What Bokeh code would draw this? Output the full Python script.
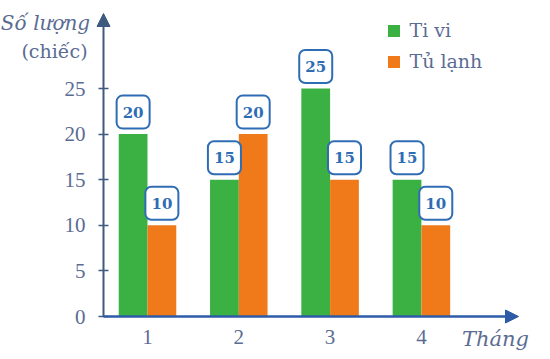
from bokeh.plotting import figure
from bokeh.models import (Range1d, FixedTicker, Label, Arrow, NormalHead, Legend,
                          LegendItem, ColumnDataSource)
from bokeh.transform import dodge
from bokeh.embed import file_html
from bokeh.resources import INLINE
from bokeh.core.properties import value

# ---- data ----
months = [1, 2, 3, 4]
tivi = [20, 15, 25, 15]
tulanh = [10, 20, 15, 10]
y_ticks = [0, 5, 10, 15, 20, 25]
series_names = ["Ti vi", "Tủ lạnh"]
y_title = ["Số lượng", "(chiếc)"]
x_title = "Tháng"

# ---- style ----
GREEN = "#3bb143"
ORANGE = "#f07a1a"
TXT = "#5b6c93"
BOX = "#2e6db4"
YAX = "#3e5a7e"
XAX = "#2d5ba8"
TICK_FONT = "Times New Roman"
SERIF = "DejaVu Serif"

W, H = 546, 355
px_x = 91.3          # pixels per month
px_y = 9.12          # pixels per unit
xs = 1 - 147 / px_x
xe = xs + W / px_x
ys = -(H - 316) / px_y
ye = ys + H / px_y
y_axis_x = xs + 103 / px_x       # where the y axis stands
y_arrow_top = ys + (H - 13) / px_y
x_arrow_end = xs + 518 / px_x
bar_w = 0.315
box_off = 22 / px_y

src = ColumnDataSource(dict(
    month=months, tivi=tivi, tulanh=tulanh,
    tivi_txt=[str(v) for v in tivi], tulanh_txt=[str(v) for v in tulanh]))

p = figure(width=W, height=H, x_range=Range1d(xs, xe), y_range=Range1d(ys, ye),
           output_backend="svg", toolbar_location=None,
           min_border=0, min_border_left=0, min_border_right=0, min_border_top=0,
           min_border_bottom=0)
p.outline_line_color = None
p.background_fill_color = "white"
p.border_fill_color = "white"
p.xgrid.visible = False
p.ygrid.visible = False

# axes
p.xaxis.fixed_location = 0
p.xaxis.ticker = FixedTicker(ticks=months)
p.xaxis.major_tick_in = 0
p.xaxis.major_tick_out = 0
p.xaxis.minor_tick_line_color = None
p.xaxis.axis_line_color = None
p.xaxis.major_label_standoff = 13
p.xaxis.major_label_text_font = TICK_FONT
p.xaxis.major_label_text_font_size = "21px"
p.xaxis.major_label_text_color = TXT

p.yaxis.fixed_location = y_axis_x
p.yaxis.ticker = FixedTicker(ticks=y_ticks)
p.yaxis.major_tick_in = 5
p.yaxis.major_tick_out = 5
p.yaxis.major_tick_line_color = YAX
p.yaxis.major_tick_line_width = 1.5
p.yaxis.minor_tick_line_color = None
p.yaxis.axis_line_color = None
p.yaxis.major_label_standoff = 13
p.yaxis.major_label_text_font = TICK_FONT
p.yaxis.major_label_text_font_size = "21px"
p.yaxis.major_label_text_color = TXT

# bars
r1 = p.vbar(x=dodge("month", -bar_w / 2), top="tivi", width=bar_w, source=src,
            fill_color=GREEN, line_color=None)
r2 = p.vbar(x=dodge("month", bar_w / 2), top="tulanh", width=bar_w, source=src,
            fill_color=ORANGE, line_color=None)

# value boxes
for col, off in (("tivi", -bar_w / 2), ("tulanh", bar_w / 2)):
    p.rect(x=dodge("month", off), y=dodge(col, box_off), width=33, height=33,
           width_units="screen", height_units="screen", source=src,
           fill_color="white", line_color=BOX, line_width=2, border_radius=6)
    p.text(x=dodge("month", off), y=dodge(col, box_off), text=col + "_txt", source=src,
           text_align="center", text_baseline="middle", text_font=value(SERIF),
           text_font_style="bold", text_font_size="15px", text_color=BOX)

# axis arrows
p.add_layout(Arrow(end=NormalHead(size=13, fill_color=YAX, line_color=YAX),
                   x_start=y_axis_x, y_start=0, x_end=y_axis_x, y_end=y_arrow_top,
                   line_color=YAX, line_width=2))
p.add_layout(Arrow(end=NormalHead(size=13, fill_color=XAX, line_color=XAX),
                   x_start=y_axis_x, y_start=0, x_end=x_arrow_end, y_end=0,
                   line_color=XAX, line_width=2.5))

# legend
legend = Legend(items=[LegendItem(label=series_names[0], renderers=[r1]),
                       LegendItem(label=series_names[1], renderers=[r2])],
                location=(385.5, H - 73.5), glyph_width=15, glyph_height=15,
                label_height=25, spacing=6, padding=0, margin=0, label_standoff=9,
                border_line_color=None, background_fill_alpha=0,
                label_text_font=SERIF, label_text_font_size="19px",
                label_text_color=TXT)
p.add_layout(legend)

# titles (screen units, frame == canvas)
p.add_layout(Label(x=45, y=H - 22, x_units="screen", y_units="screen", text=y_title[0],
                   text_font=SERIF, text_font_style="italic", text_font_size="20px",
                   text_align="center", text_baseline="middle", text_color=TXT))
p.add_layout(Label(x=54, y=H - 50, x_units="screen", y_units="screen", text=y_title[1],
                   text_font=SERIF, text_font_size="19px",
                   text_align="center", text_baseline="middle", text_color=TXT))
p.add_layout(Label(x=495, y=H - 338, x_units="screen", y_units="screen", text=x_title,
                   text_font=SERIF, text_font_style="italic", text_font_size="21px",
                   text_align="center", text_baseline="middle", text_color=TXT))

open("out.html", "w").write(file_html(p, INLINE))
